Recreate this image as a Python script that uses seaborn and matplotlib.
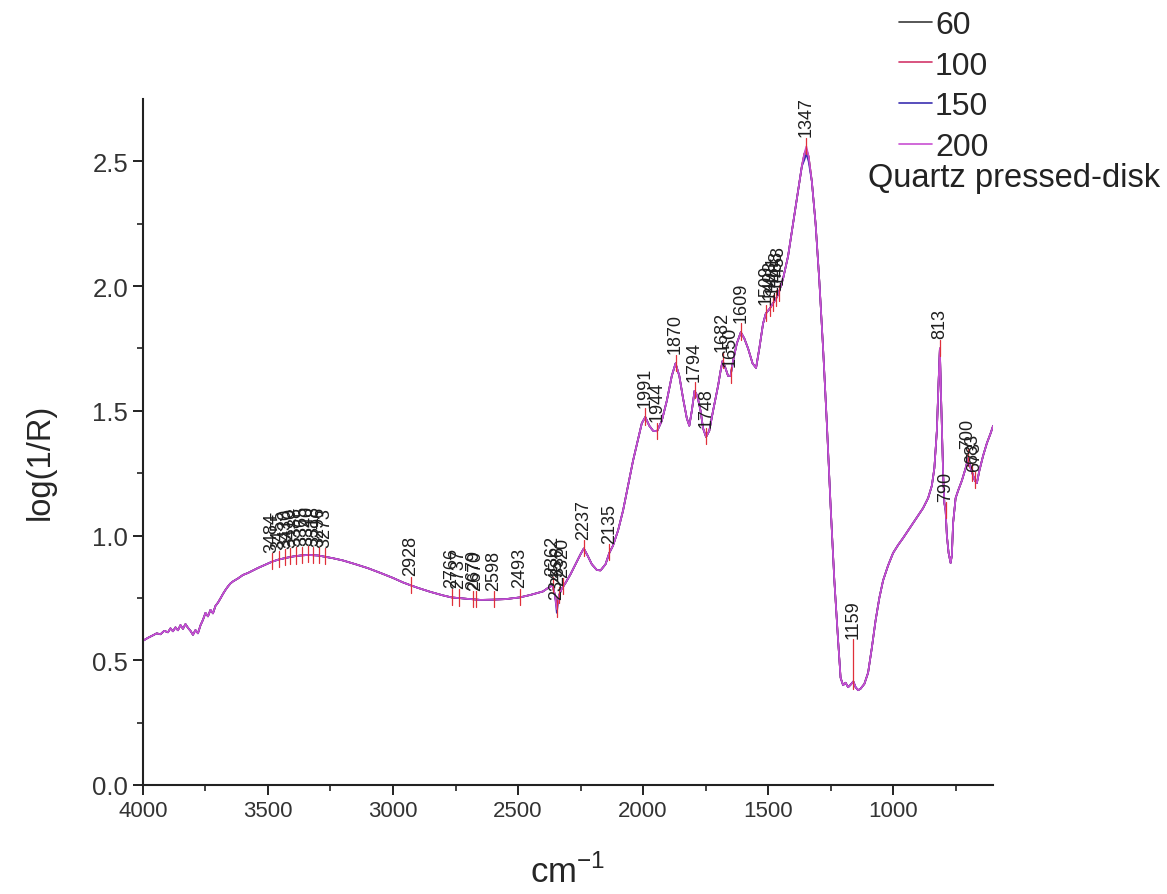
import matplotlib
matplotlib.use("Agg")
import matplotlib.pyplot as plt
import numpy as np
import pandas as pd
import seaborn as sns

# Wavenumber grid (cm-1), high to low
wavenumber = [
    4000, 3980, 3960, 3945, 3930, 3915, 3900, 3890, 3880, 3870, 3860, 3850, 3840, 3830,
    3820, 3810, 3800, 3790, 3780, 3770, 3760, 3750, 3740, 3730, 3720, 3710, 3700,
    3690, 3680, 3670, 3660, 3650, 3640, 3620, 3600, 3580, 3560, 3540, 3520, 3500, 3484,
    3460, 3430, 3400, 3370, 3340, 3300, 3273, 3240, 3200, 3150, 3100, 3050, 3000, 2960,
    2928, 2900, 2850, 2800, 2766, 2700, 2650, 2600, 2550, 2493, 2450, 2400,
    2380, 2362, 2352, 2345, 2336, 2326, 2310, 2290, 2270, 2250, 2237, 2222, 2205, 2185,
    2170, 2150, 2135, 2120, 2100, 2080, 2060, 2040, 2020, 2005, 1991, 1975, 1960, 1944,
    1925, 1905, 1885, 1870, 1855, 1840, 1825, 1815, 1805, 1794, 1783, 1770, 1760, 1748,
    1735, 1720, 1700, 1690, 1682, 1670, 1660, 1650, 1640, 1625, 1609, 1595, 1580, 1562,
    1548, 1535, 1520, 1509, 1493, 1481, 1468, 1458, 1440, 1420, 1400, 1380, 1365, 1355,
    1347, 1338, 1325, 1310, 1295, 1280, 1265, 1250, 1235, 1220, 1210, 1200, 1190, 1180,
    1170, 1159, 1150, 1140, 1130, 1115, 1100, 1085, 1070, 1055, 1040, 1020, 1000, 980,
    960, 940, 920, 900, 880, 860, 845, 835, 825, 818, 813, 808, 800, 795, 790, 785, 778,
    770, 765, 760, 750, 740, 725, 710, 700, 690, 683, 673, 665, 655, 640, 625, 610, 600,
]

# log(1/R) readings shared by all four pressures
log_r_common = [
    0.578, 0.590, 0.600, 0.608, 0.604, 0.618, 0.612, 0.628, 0.616, 0.632, 0.620, 0.641, 0.626, 0.645,
    0.630, 0.618, 0.602, 0.621, 0.608, 0.640, 0.662, 0.690, 0.676, 0.702, 0.688, 0.718, 0.731,
    0.748, 0.766, 0.782, 0.796, 0.808, 0.816, 0.828, 0.842, 0.850, 0.860, 0.870, 0.879, 0.888, 0.895,
    0.903, 0.910, 0.916, 0.920, 0.922, 0.920, 0.915, 0.909, 0.900, 0.885, 0.869, 0.850, 0.830, 0.812,
    0.800, 0.790, 0.774, 0.760, 0.752, 0.746, 0.742, 0.743, 0.745, 0.752, 0.762, 0.776,
    0.790, 0.800, 0.760, 0.705, 0.760, 0.785, 0.810, 0.845, 0.885, 0.925, 0.948, 0.920, 0.885, 0.862,
    0.860, 0.885, 0.930, 0.960, 1.020, 1.100, 1.200, 1.300, 1.385, 1.450, 1.475, 1.440, 1.420, 1.418,
    1.460, 1.540, 1.640, 1.690, 1.640, 1.550, 1.470, 1.440, 1.500, 1.580, 1.560, 1.500, 1.430, 1.395,
    1.420, 1.500, 1.600, 1.660, 1.700, 1.670, 1.640, 1.640, 1.700, 1.770, 1.815, 1.790, 1.750, 1.690,
    1.672, 1.750, 1.850, 1.890, 1.910, 1.930, 1.950, 1.970, 2.030, 2.120, 2.250, 2.380, 2.480, 2.530,
    2.560, 2.520, 2.420, 2.250, 2.020, 1.750, 1.450, 1.120, 0.820, 0.580, 0.430, 0.400, 0.410, 0.392,
    0.402, 0.415, 0.392, 0.380, 0.386, 0.405, 0.450, 0.550, 0.660, 0.750, 0.820, 0.880, 0.930, 0.962,
    0.990, 1.020, 1.050, 1.080, 1.110, 1.150, 1.200, 1.270, 1.420, 1.620, 1.750, 1.550, 1.250, 1.130, 1.100, 1.000, 0.930,
    0.890, 0.920, 1.050, 1.150, 1.180, 1.220, 1.270, 1.310, 1.270, 1.250, 1.220, 1.210, 1.260, 1.320, 1.370, 1.410, 1.440,
]

# Small departures of individual pressures from the shared readings
deviation_60 = {2345: 0.720, 1347: 2.545}
deviation_100 = {2345: 0.715, 1347: 2.550}
deviation_150 = {2345: 0.690, 1355: 2.505, 1347: 2.530, 1338: 2.500}
deviation_200 = {}

pressures = ["60", "100", "150", "200"]

# Labelled band positions (cm-1)
peak_positions = [
    3484, 3455, 3430, 3410, 3388, 3365, 3340, 3318, 3296, 3273,
    2928, 2766, 2737, 2679, 2670, 2598, 2493,
    2362, 2345, 2336, 2320, 2237, 2135,
    1991, 1944, 1870, 1794, 1748, 1682, 1650, 1609,
    1509, 1493, 1481, 1468, 1458, 1347, 1159,
    813, 790, 700, 683, 673,
]

series_colors = {"60": "#3a3a3a", "100": "#d2366a", "150": "#3b2fb0", "200": "#c84fd2"}

frames = []
for name, dev in zip(pressures, [deviation_60, deviation_100, deviation_150, deviation_200]):
    vals = [dev.get(w, v) for w, v in zip(wavenumber, log_r_common)]
    frames.append(pd.DataFrame({"wavenumber": wavenumber, "log_r": vals, "pressure": name}))
spectra = pd.concat(frames, ignore_index=True)

sns.set_style("ticks")
plt.rcParams["font.family"] = ["Liberation Sans", "DejaVu Sans"]
plt.rcParams["mathtext.fontset"] = "custom"
plt.rcParams["mathtext.rm"] = "Liberation Sans"

fig = plt.figure(figsize=(11.67, 8.95), dpi=100)
ax = fig.add_axes([0.1225, 0.1218, 0.7285, 0.7665])

sns.lineplot(data=spectra, x="wavenumber", y="log_r", hue="pressure",
             hue_order=pressures, palette=series_colors, sort=False,
             estimator=None, linewidth=1.2, ax=ax, legend=True)

# Peak markers and rotated labels
wn_arr = np.array(wavenumber[::-1], dtype=float)
yv_arr = np.array(log_r_common[::-1], dtype=float)
label_lift = {1159: 0.17}
for p in peak_positions:
    yp = float(np.interp(p, wn_arr, yv_arr))
    lift = label_lift.get(p, 0.035)
    ax.plot([p, p], [yp - 0.03, yp + lift], color="#e0303a", lw=0.9, zorder=3)
    ax.text(p, yp + lift + 0.005, str(p), rotation=90, ha="center", va="bottom",
            fontsize=13, color="#1e1e1e", zorder=4)

ax.set_xlim(4000, 600)
ax.set_ylim(0, 2.75)
ax.set_xticks([4000, 3500, 3000, 2500, 2000, 1500, 1000])
ax.set_xticks(np.arange(3750, 600, -500), minor=True)
ax.set_yticks([0.0, 0.5, 1.0, 1.5, 2.0, 2.5])
ax.set_yticks([0.25, 0.75, 1.25, 1.75, 2.25], minor=True)
ax.set_yticklabels(["0.0", "0.5", "1.0", "1.5", "2.0", "2.5"])

for side in ["top", "right"]:
    ax.spines[side].set_visible(False)
for side in ["left", "bottom"]:
    ax.spines[side].set_linewidth(1.5)
    ax.spines[side].set_color("#222222")
ax.tick_params(axis="both", which="major", direction="out", length=7, width=1.4,
               color="#222222", labelcolor="#333333")
ax.tick_params(axis="both", which="minor", direction="out", length=4, width=1.2, color="#222222")
ax.tick_params(axis="y", labelsize=18.5)
ax.tick_params(axis="x", labelsize=16)

ax.set_xlabel(r"cm$^{\mathregular{-1}}$", fontsize=25, labelpad=24)
ax.set_ylabel("log(1/R)", fontsize=23.5)
ax.yaxis.set_label_coords(-0.103, 0.472)

handles, labels = ax.get_legend_handles_labels()
ax.get_legend().remove()
for h in handles:
    h.set_linewidth(1.2)
fig.legend(handles, labels, loc="upper left", bbox_to_anchor=(0.751, 1.013),
           frameon=False, fontsize=23, handlelength=1.05, handletextpad=0.08,
           labelspacing=0.34, borderpad=0.2)
fig.text(868 / 1167, 1 - 178 / 895, "Quartz pressed-disk", fontsize=23.5,
         color="#222222", ha="left", va="center")

fig.savefig("out.png", dpi=100)
